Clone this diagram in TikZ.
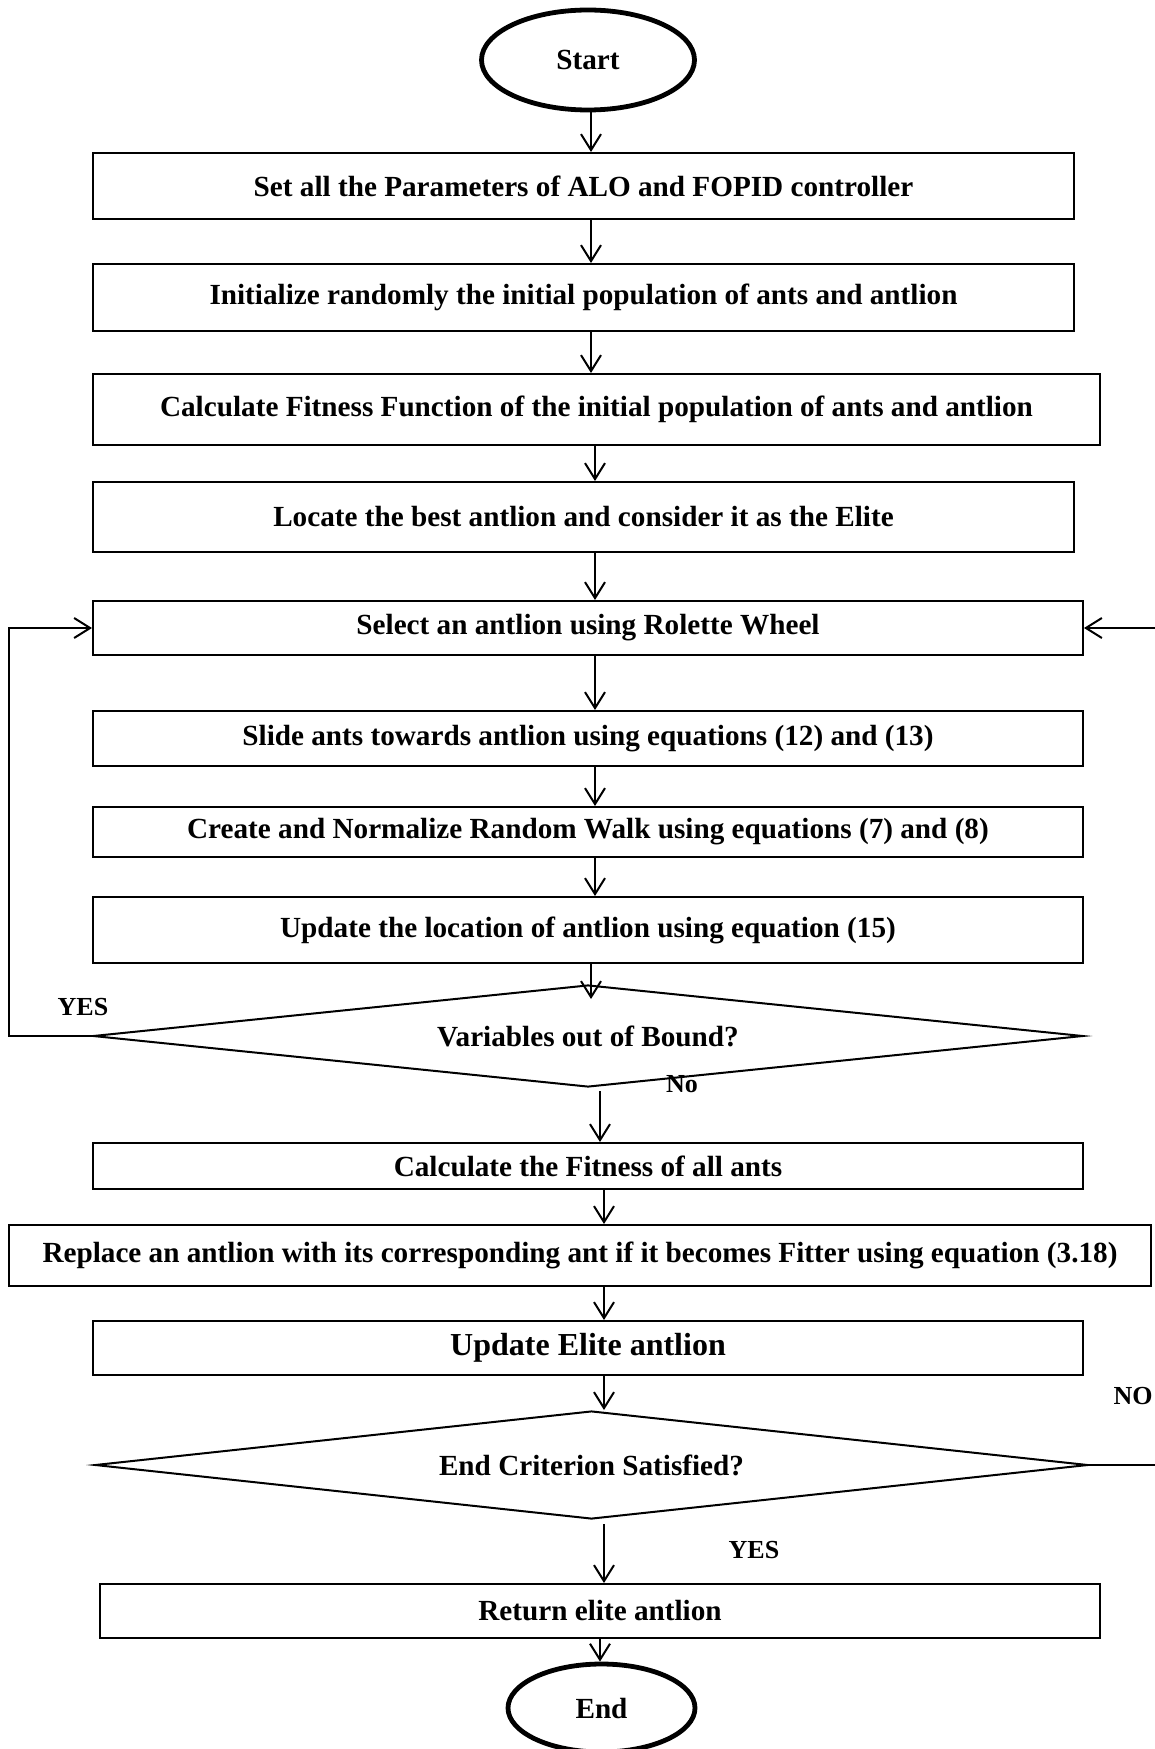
\documentclass[tikz,border=0pt]{standalone}
\usepackage{fontspec}
\setmainfont{Liberation Serif}
\usetikzlibrary{shapes.geometric,arrows.meta}

\begin{document}
\begin{tikzpicture}[x=0.5pt,y=-0.5pt,
		box/.style={draw,line width=1pt,inner sep=0pt,font=\fontsize{14.6}{17}\selectfont\bfseries},
		term/.style={draw,ellipse,line width=2.4pt,inner sep=0pt,font=\fontsize{14.6}{17}\selectfont\bfseries},
		dec/.style={draw,diamond,aspect=9,line width=1pt,inner sep=0pt,font=\fontsize{14.6}{17}\selectfont\bfseries},
		arr/.style={line width=1pt,-{Straight Barb[length=8pt,width=10pt]}},
		lbl/.style={font=\fontsize{13}{15}\selectfont\bfseries}]
		\useasboundingbox (0,0) rectangle (1155,1749);
		%start and set-up
		\node[term,minimum width=106.5pt,minimum height=50pt] (start) at (588,60) {Start};
		\node[box,minimum width=490.5pt,minimum height=33pt] (b1) at (583.5,186) {Set all the Parameters of ALO and FOPID controller};
		\node[box,minimum width=490.5pt,minimum height=33.5pt] (b2) at (583.5,297.5) {Initialize randomly the initial population of ants and antlion};
		\node[box,minimum width=503.5pt,minimum height=35.5pt] (b3) at (596.5,409.5) {Calculate Fitness Function of the initial population of ants and antlion};
		\node[box,minimum width=490.5pt,minimum height=35pt] (b4) at (583.5,517) {Locate the best antlion and consider it as the Elite};
		%main loop
		\node[box,minimum width=495pt,minimum height=27pt] (b5) at (588,628) {Select an antlion using Rolette Wheel};
		\node[box,minimum width=495pt,minimum height=27.5pt] (b6) at (588,738.5) {Slide ants towards antlion using equations (12) and (13)};
		\node[box,minimum width=495pt,minimum height=25pt] (b7) at (588,832) {Create and Normalize Random Walk using equations (7) and (8)};
		\node[box,minimum width=495pt,minimum height=33pt] (b8) at (588,930) {Update the location of antlion using equation (15)};
		\node[dec,minimum width=495pt,minimum height=51pt] (d1) at (588,1036) {Variables out of Bound?};
		\node[box,minimum width=495pt,minimum height=23pt] (b9) at (588,1166) {Calculate the Fitness of all ants};
		\node[box,minimum width=571pt,minimum height=30.5pt] (b10) at (580,1255.5) {Replace an antlion with its corresponding ant if it becomes Fitter using equation (3.18)};
		\node[box,minimum width=495pt,minimum height=27pt,font=\fontsize{16}{19}\selectfont\bfseries] (b11) at (588,1348) {Update Elite antlion};
		\node[dec,minimum width=496.5pt,minimum height=54pt] (d2) at (591.5,1465) {End Criterion Satisfied?};
		%end
		\node[box,minimum width=500pt,minimum height=27pt] (b12) at (600,1611) {Return elite antlion};
		\node[term,minimum width=93.5pt,minimum height=44pt] (end) at (601.5,1708) {End};
		%labels
		\node[lbl] (yes1) at (83,1007) {YES};
		\node[lbl] (no1) at (682,1084) {No};
		\node[lbl] (no2) at (1133,1396) {NO};
		\node[lbl] (yes2) at (754,1550) {YES};
		%arrows
		\coordinate (ca) at (591,0);
		\coordinate (cb) at (595,0);
		\coordinate (cc) at (600,0);
		\coordinate (cd) at (604,0);
		\draw[arr] (start.south -| ca) -- (b1.north -| ca);
		\draw[arr] (b1.south -| ca) -- (b2.north -| ca);
		\draw[arr] (b2.south -| ca) -- (b3.north -| ca);
		\draw[arr] (b3.south -| cb) -- (b4.north -| cb);
		\draw[arr] (b4.south -| cb) -- (b5.north -| cb);
		\draw[arr] (b5.south -| cb) -- (b6.north -| cb);
		\draw[arr] (b6.south -| cb) -- (b7.north -| cb);
		\draw[arr] (b7.south -| cb) -- (b8.north -| cb);
		\draw[arr] (b8.south -| ca) -- ([yshift=-7.5pt]d1.north -| ca);
		\draw[arr] (d1.south -| cc) ++(0,3) -- (b9.north -| cc);
		\draw[arr] (b9.south -| cd) -- (b10.north -| cd);
		\draw[arr] (b10.south -| cd) -- (b11.north -| cd);
		\draw[arr] (b11.south -| cd) -- (d2.north -| cd);
		\draw[arr] (d2.south -| cd) ++(0,4) -- (b12.north -| cd);
		\draw[arr] (b12.south -| cc) -- (end.north -| cc);
		%loops
		\draw[arr] (d1.west) -- ++(-83,0) |- (b5.west);
		\draw[arr] (d2.east) -- ++(80,0) |- (b5.east);
	\end{tikzpicture}
\end{document}
